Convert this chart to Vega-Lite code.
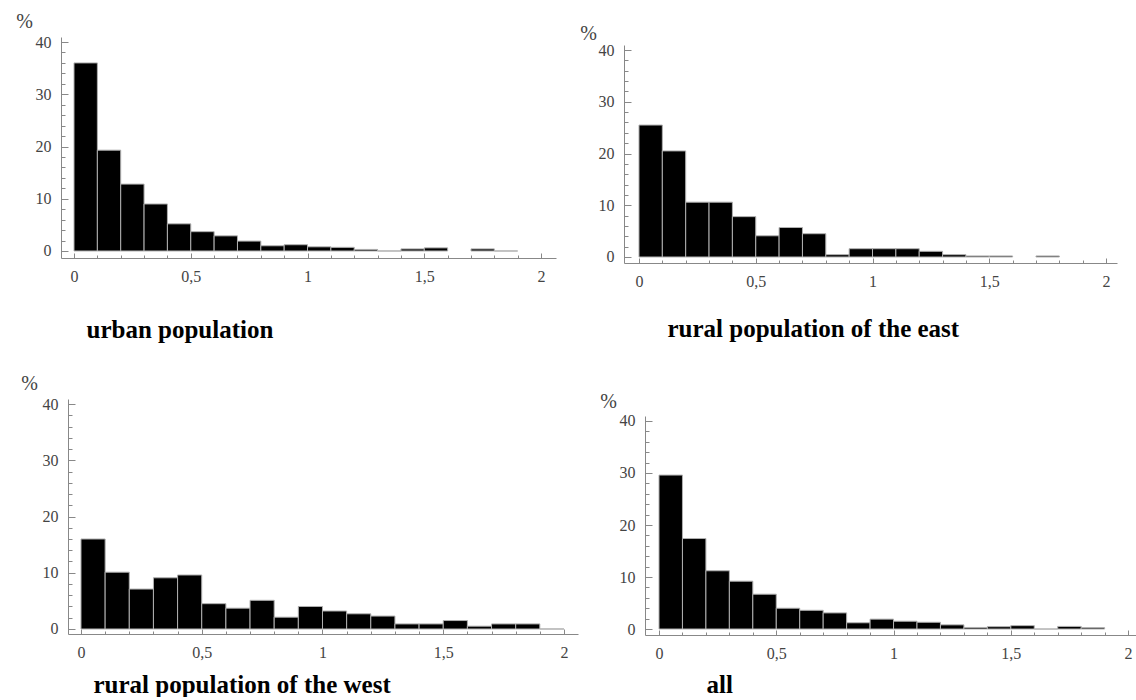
{
  "$schema": "https://vega.github.io/schema/vega-lite/v6.json",
  "background": "white",
  "padding": {"left": 15, "top": 11, "right": 0, "bottom": 0},
  "datasets": {
    "hist": [
      {"panel": "urban", "start": 0.0, "end": 0.1, "percent": 36.0},
      {"panel": "urban", "start": 0.1, "end": 0.2, "percent": 19.3},
      {"panel": "urban", "start": 0.2, "end": 0.3, "percent": 12.8},
      {"panel": "urban", "start": 0.3, "end": 0.4, "percent": 9.0},
      {"panel": "urban", "start": 0.4, "end": 0.5, "percent": 5.2},
      {"panel": "urban", "start": 0.5, "end": 0.6, "percent": 3.7},
      {"panel": "urban", "start": 0.6, "end": 0.7, "percent": 2.9},
      {"panel": "urban", "start": 0.7, "end": 0.8, "percent": 1.9},
      {"panel": "urban", "start": 0.8, "end": 0.9, "percent": 1.0},
      {"panel": "urban", "start": 0.9, "end": 1.0, "percent": 1.2},
      {"panel": "urban", "start": 1.0, "end": 1.1, "percent": 0.8},
      {"panel": "urban", "start": 1.1, "end": 1.2, "percent": 0.7},
      {"panel": "urban", "start": 1.2, "end": 1.3, "percent": 0.3},
      {"panel": "urban", "start": 1.3, "end": 1.4, "percent": 0},
      {"panel": "urban", "start": 1.4, "end": 1.5, "percent": 0.4},
      {"panel": "urban", "start": 1.5, "end": 1.6, "percent": 0.6},
      {"panel": "urban", "start": 1.7, "end": 1.8, "percent": 0.4},
      {"panel": "urban", "start": 1.8, "end": 1.9, "percent": 0},
      {"panel": "east", "start": 0.0, "end": 0.1, "percent": 25.5},
      {"panel": "east", "start": 0.1, "end": 0.2, "percent": 20.5},
      {"panel": "east", "start": 0.2, "end": 0.3, "percent": 10.6},
      {"panel": "east", "start": 0.3, "end": 0.4, "percent": 10.6},
      {"panel": "east", "start": 0.4, "end": 0.5, "percent": 7.8},
      {"panel": "east", "start": 0.5, "end": 0.6, "percent": 4.1},
      {"panel": "east", "start": 0.6, "end": 0.7, "percent": 5.7},
      {"panel": "east", "start": 0.7, "end": 0.8, "percent": 4.5},
      {"panel": "east", "start": 0.8, "end": 0.9, "percent": 0.45},
      {"panel": "east", "start": 0.9, "end": 1.0, "percent": 1.6},
      {"panel": "east", "start": 1.0, "end": 1.1, "percent": 1.6},
      {"panel": "east", "start": 1.1, "end": 1.2, "percent": 1.6},
      {"panel": "east", "start": 1.2, "end": 1.3, "percent": 1.1},
      {"panel": "east", "start": 1.3, "end": 1.4, "percent": 0.45},
      {"panel": "east", "start": 1.4, "end": 1.5, "percent": 0.2},
      {"panel": "east", "start": 1.5, "end": 1.6, "percent": 0.2},
      {"panel": "east", "start": 1.7, "end": 1.8, "percent": 0.2},
      {"panel": "west", "start": 0.0, "end": 0.1, "percent": 16.0},
      {"panel": "west", "start": 0.1, "end": 0.2, "percent": 10.1},
      {"panel": "west", "start": 0.2, "end": 0.3, "percent": 7.1},
      {"panel": "west", "start": 0.3, "end": 0.4, "percent": 9.1},
      {"panel": "west", "start": 0.4, "end": 0.5, "percent": 9.6},
      {"panel": "west", "start": 0.5, "end": 0.6, "percent": 4.5},
      {"panel": "west", "start": 0.6, "end": 0.7, "percent": 3.7},
      {"panel": "west", "start": 0.7, "end": 0.8, "percent": 5.1},
      {"panel": "west", "start": 0.8, "end": 0.9, "percent": 2.1},
      {"panel": "west", "start": 0.9, "end": 1.0, "percent": 4.0},
      {"panel": "west", "start": 1.0, "end": 1.1, "percent": 3.2},
      {"panel": "west", "start": 1.1, "end": 1.2, "percent": 2.7},
      {"panel": "west", "start": 1.2, "end": 1.3, "percent": 2.3},
      {"panel": "west", "start": 1.3, "end": 1.4, "percent": 0.9},
      {"panel": "west", "start": 1.4, "end": 1.5, "percent": 0.9},
      {"panel": "west", "start": 1.5, "end": 1.6, "percent": 1.5},
      {"panel": "west", "start": 1.6, "end": 1.7, "percent": 0.5},
      {"panel": "west", "start": 1.7, "end": 1.8, "percent": 0.9},
      {"panel": "west", "start": 1.8, "end": 1.9, "percent": 0.9},
      {"panel": "west", "start": 1.9, "end": 2.0, "percent": 0},
      {"panel": "all", "start": 0.0, "end": 0.1, "percent": 29.6},
      {"panel": "all", "start": 0.1, "end": 0.2, "percent": 17.4},
      {"panel": "all", "start": 0.2, "end": 0.3, "percent": 11.2},
      {"panel": "all", "start": 0.3, "end": 0.4, "percent": 9.2},
      {"panel": "all", "start": 0.4, "end": 0.5, "percent": 6.7},
      {"panel": "all", "start": 0.5, "end": 0.6, "percent": 4.0},
      {"panel": "all", "start": 0.6, "end": 0.7, "percent": 3.6},
      {"panel": "all", "start": 0.7, "end": 0.8, "percent": 3.1},
      {"panel": "all", "start": 0.8, "end": 0.9, "percent": 1.2},
      {"panel": "all", "start": 0.9, "end": 1.0, "percent": 1.9},
      {"panel": "all", "start": 1.0, "end": 1.1, "percent": 1.5},
      {"panel": "all", "start": 1.1, "end": 1.2, "percent": 1.3},
      {"panel": "all", "start": 1.2, "end": 1.3, "percent": 0.8},
      {"panel": "all", "start": 1.3, "end": 1.4, "percent": 0.3},
      {"panel": "all", "start": 1.4, "end": 1.5, "percent": 0.45},
      {"panel": "all", "start": 1.5, "end": 1.6, "percent": 0.65},
      {"panel": "all", "start": 1.6, "end": 1.7, "percent": 0},
      {"panel": "all", "start": 1.7, "end": 1.8, "percent": 0.5},
      {"panel": "all", "start": 1.8, "end": 1.9, "percent": 0.25}
    ]
  },
  "data": {"name": "hist"},
  "bounds": "flush",
  "spacing": 362,
  "vconcat": [
    {
      "bounds": "flush",
      "spacing": 68,
      "hconcat": [
        {
          "width": 495, "height": 221,
          "transform": [{"filter": "datum.panel === 'urban'"}],
          "mark": {"type": "bar", "fill": "#000000", "stroke": "#b0b0b0", "strokeWidth": 1},
          "encoding": {
            "x": {"field": "start", "type": "quantitative",
              "scale": {"domain": [-0.0557, 2.064], "nice": false, "zero": false},
              "axis": {"values": [0,0.1,0.2,0.3,0.4,0.5,0.6,0.7,0.8,0.9,1,1.1,1.2,1.3,1.4,1.5,1.6,1.7,1.8,1.9,2],
                "labelExpr": "abs(datum.value*2 - round(datum.value*2)) < 0.001 ? replace(toString(datum.value), '.', ',') : ''",
                "tickSize": {"condition": {"test": "abs(datum.value*2 - round(datum.value*2)) < 0.001", "value": -5}, "value": -3},
                "title": "urban population", "titleX": 25, "titleY": 79}},
            "x2": {"field": "end"},
            "y": {"field": "percent", "type": "quantitative",
              "scale": {"domain": [-1.34, 40.96], "nice": false, "zero": false},
              "axis": {"values": [0,2,4,6,8,10,12,14,16,18,20,22,24,26,28,30,32,34,36,38,40],
                "labelExpr": "datum.value % 10 === 0 ? datum.label : ''",
                "tickSize": {"condition": {"test": "datum.value % 10 === 0", "value": -7}, "value": -4},
                "title": "%", "titleX": -37, "titleY": -16}},
            "y2": {"datum": 0}
          }
        },
        {
          "width": 493, "height": 226,
          "transform": [{"filter": "datum.panel === 'east'"}],
          "mark": {"type": "bar", "fill": "#000000", "stroke": "#b0b0b0", "strokeWidth": 1},
          "encoding": {
            "x": {"field": "start", "type": "quantitative",
              "scale": {"domain": [-0.0642, 2.047], "nice": false, "zero": false},
              "axis": {"values": [0,0.1,0.2,0.3,0.4,0.5,0.6,0.7,0.8,0.9,1,1.1,1.2,1.3,1.4,1.5,1.6,1.7,1.8,1.9,2],
                "labelExpr": "abs(datum.value*2 - round(datum.value*2)) < 0.001 ? replace(toString(datum.value), '.', ',') : ''",
                "tickSize": {"condition": {"test": "abs(datum.value*2 - round(datum.value*2)) < 0.001", "value": -5}, "value": -3},
                "title": "rural population of the east", "titleX": 43, "titleY": 73}},
            "x2": {"field": "end"},
            "y": {"field": "percent", "type": "quantitative",
              "scale": {"domain": [-1.16, 40.97], "range": [226, 8], "nice": false, "zero": false},
              "axis": {"values": [0,2,4,6,8,10,12,14,16,18,20,22,24,26,28,30,32,34,36,38,40],
                "labelExpr": "datum.value % 10 === 0 ? datum.label : ''",
                "tickSize": {"condition": {"test": "datum.value % 10 === 0", "value": -7}, "value": -4},
                "title": "%", "titleX": -36, "titleY": -4}},
            "y2": {"datum": 0}
          }
        }
      ]
    },
    {
      "bounds": "flush",
      "spacing": 67,
      "hconcat": [
        {
          "width": 517, "height": 235,
          "transform": [{"filter": "datum.panel === 'west'"}],
          "mark": {"type": "bar", "fill": "#000000", "stroke": "#b0b0b0", "strokeWidth": 1},
          "encoding": {
            "x": {"field": "start", "type": "quantitative",
              "scale": {"domain": [-0.0538, 2.058], "range": [7, 517], "nice": false, "zero": false},
              "axis": {"values": [0,0.1,0.2,0.3,0.4,0.5,0.6,0.7,0.8,0.9,1,1.1,1.2,1.3,1.4,1.5,1.6,1.7,1.8,1.9,2],
                "labelExpr": "abs(datum.value*2 - round(datum.value*2)) < 0.001 ? replace(toString(datum.value), '.', ',') : ''",
                "tickSize": {"condition": {"test": "abs(datum.value*2 - round(datum.value*2)) < 0.001", "value": -5}, "value": -3},
                "title": "rural population of the west", "titleX": 32, "titleY": 58}},
            "x2": {"field": "end"},
            "y": {"field": "percent", "type": "quantitative",
              "scale": {"domain": [-0.89, 40.89], "nice": false, "zero": false},
              "axis": {"values": [0,2,4,6,8,10,12,14,16,18,20,22,24,26,28,30,32,34,36,38,40],
                "labelExpr": "datum.value % 10 === 0 ? datum.label : ''",
                "tickSize": {"condition": {"test": "datum.value % 10 === 0", "value": -7}, "value": -4},
                "offset": -7,
                "title": "%", "titleX": -39, "titleY": -16}},
            "y2": {"datum": 0}
          }
        },
        {
          "width": 492, "height": 236,
          "transform": [{"filter": "datum.panel === 'all'"}],
          "mark": {"type": "bar", "fill": "#000000", "stroke": "#b0b0b0", "strokeWidth": 1},
          "encoding": {
            "x": {"field": "start", "type": "quantitative",
              "scale": {"domain": [-0.0597, 2.038], "nice": false, "zero": false},
              "axis": {"values": [0,0.1,0.2,0.3,0.4,0.5,0.6,0.7,0.8,0.9,1,1.1,1.2,1.3,1.4,1.5,1.6,1.7,1.8,1.9,2],
                "labelExpr": "abs(datum.value*2 - round(datum.value*2)) < 0.001 ? replace(toString(datum.value), '.', ',') : ''",
                "tickSize": {"condition": {"test": "abs(datum.value*2 - round(datum.value*2)) < 0.001", "value": -5}, "value": -3},
                "title": "all", "titleX": 61, "titleY": 57}},
            "x2": {"field": "end"},
            "y": {"field": "percent", "type": "quantitative",
              "scale": {"domain": [-1.15, 40.96], "range": [236, 17], "nice": false, "zero": false},
              "axis": {"values": [0,2,4,6,8,10,12,14,16,18,20,22,24,26,28,30,32,34,36,38,40],
                "labelExpr": "datum.value % 10 === 0 ? datum.label : ''",
                "tickSize": {"condition": {"test": "datum.value % 10 === 0", "value": -7}, "value": -4},
                "title": "%", "titleX": -37, "titleY": 2}},
            "y2": {"datum": 0}
          }
        }
      ]
    }
  ],
  "config": {
    "view": {"stroke": null},
    "axis": {
      "grid": false,
      "domainColor": "#888888",
      "tickColor": "#888888",
      "labelColor": "#444444",
      "labelFont": "Liberation Serif",
      "labelFontSize": 16,
      "titleFont": "Liberation Serif",
      "labelOverlap": false,
      "labelFlush": false,
      "labelBound": false
    },
    "axisX": {
      "titleFontSize": 25,
      "titleFontWeight": "bold",
      "titleColor": "#000000",
      "titleAlign": "left",
      "titleAnchor": "start",
      "titleBaseline": "alphabetic",
      "labelPadding": 15
    },
    "axisY": {
      "titleAngle": 0,
      "titleAlign": "center",
      "titleBaseline": "middle",
      "titleFontSize": 20,
      "titleFontWeight": "normal",
      "titleColor": "#444444",
      "labelPadding": 17
    }
  }
}
